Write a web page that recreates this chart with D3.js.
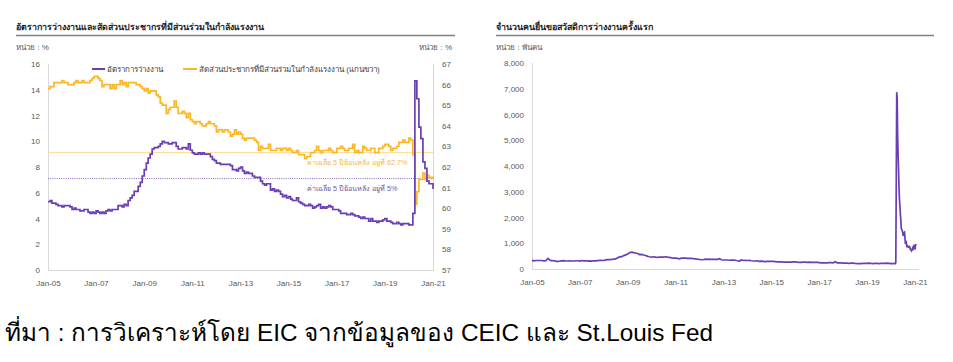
<!DOCTYPE html>
<html><head><meta charset="utf-8">
<script src="https://cdn.jsdelivr.net/npm/d3@7"></script>
<style>
body{margin:0;background:#fff;}
svg{display:block;font-family:"Liberation Sans",Arial,sans-serif;}
</style></head>
<body><svg id="c" width="953" height="362"></svg>
<script>
// ---------- DATA ----------
const leftTitle = "อัตราการว่างงานและสัดส่วนประชากรที่มีส่วนร่วมในกำลังแรงงาน";
const rightTitle = "จำนวนคนยื่นขอสวัสดิการว่างงานครั้งแรก";
const unitPct = "หน่วย : %";
const unitK = "หน่วย : พันคน";
const seriesNames = ["อัตราการว่างงาน", "สัดส่วนประชากรที่มีส่วนร่วมในกำลังแรงงาน (แกนขวา)"];
const avgLabels = ["ค่าเฉลี่ย 5 ปีย้อนหลัง อยู่ที่ 62.7%", "ค่าเฉลี่ย 5 ปีย้อนหลัง อยู่ที่ 5%"];
const avgParticipation = 62.7;   // right axis
const avgUnemploymentLine = 7.1; // left axis (position of dotted line)
const sourceText = "ที่มา : การวิเคราะห์โดย EIC จากข้อมูลของ CEIC และ St.Louis Fed";
const xTickLabels = ["Jan-05","Jan-07","Jan-09","Jan-11","Jan-13","Jan-15","Jan-17","Jan-19","Jan-21"];
const leftTicks = [0,2,4,6,8,10,12,14,16];
const rightTicks = [57,58,59,60,61,62,63,64,65,66,67];
const claimsTicks = [0,1000,2000,3000,4000,5000,6000,7000,8000];

// monthly from Jan-2005 to Jan-2021
const unemploymentRate = [
5.3,5.4,5.2,5.2,5.1,5.0,5.0,4.9,5.0,5.0,5.0,4.9,
4.7,4.8,4.7,4.7,4.6,4.6,4.7,4.7,4.5,4.4,4.5,4.4,
4.6,4.5,4.4,4.5,4.4,4.6,4.7,4.6,4.7,4.7,4.7,5.0,
5.0,4.9,5.1,5.0,5.4,5.6,5.8,6.1,6.1,6.5,6.8,7.3,
7.8,8.3,8.7,9.0,9.4,9.5,9.5,9.6,9.8,10.0,9.9,9.9,
9.8,9.8,9.9,9.9,9.6,9.4,9.4,9.5,9.5,9.4,9.8,9.3,
9.1,9.0,9.0,9.1,9.0,9.1,9.0,9.0,9.0,8.8,8.6,8.5,
8.3,8.3,8.2,8.2,8.2,8.2,8.2,8.1,7.8,7.8,7.7,7.9,
8.0,7.7,7.5,7.6,7.5,7.5,7.3,7.2,7.2,7.2,6.9,6.7,
6.6,6.7,6.7,6.2,6.3,6.1,6.2,6.1,5.9,5.7,5.8,5.6,
5.7,5.5,5.4,5.4,5.6,5.3,5.2,5.1,5.0,5.0,5.1,5.0,
4.8,4.9,5.0,5.1,4.8,4.9,4.8,4.9,5.0,4.9,4.7,4.7,
4.7,4.6,4.4,4.4,4.4,4.3,4.3,4.4,4.3,4.2,4.2,4.1,
4.0,4.1,4.0,4.0,3.8,4.0,3.8,3.8,3.7,3.8,3.8,3.9,
4.0,3.8,3.8,3.7,3.6,3.6,3.7,3.6,3.5,3.6,3.6,3.6,
3.5,3.5,4.4,14.7,13.3,11.1,10.2,8.4,7.9,6.9,6.7,6.7,
6.3];
const participationRate = [
65.8,65.9,65.9,66.1,66.1,66.1,66.1,66.2,66.1,66.1,66.0,66.0,
66.0,66.1,66.2,66.1,66.1,66.2,66.1,66.1,66.1,66.2,66.3,66.4,
66.4,66.3,66.2,65.9,66.0,66.0,66.0,65.8,66.0,65.8,66.0,66.0,
66.2,66.0,66.1,65.9,66.1,66.1,66.1,66.1,66.0,66.0,65.9,65.8,
65.7,65.8,65.6,65.7,65.7,65.7,65.5,65.4,65.1,65.0,65.0,64.6,
64.8,64.9,64.9,65.2,64.9,64.6,64.6,64.7,64.6,64.4,64.6,64.3,
64.2,64.1,64.2,64.2,64.1,64.0,64.0,64.1,64.2,64.1,64.1,64.0,
63.7,63.8,63.8,63.7,63.8,63.8,63.7,63.5,63.6,63.8,63.6,63.7,
63.6,63.4,63.3,63.4,63.4,63.4,63.4,63.3,63.2,62.8,63.0,62.9,
62.9,62.9,63.1,62.8,62.8,62.8,62.9,62.9,62.8,62.9,62.9,62.8,
62.9,62.8,62.7,62.7,62.8,62.6,62.6,62.6,62.4,62.5,62.5,62.7,
62.7,62.8,63.0,62.8,62.7,62.8,62.8,62.8,62.9,62.8,62.7,62.7,
62.9,62.9,63.0,62.9,62.8,62.8,62.9,62.9,63.1,62.7,62.8,62.7,
62.7,63.0,62.9,62.8,62.8,62.9,62.9,62.7,62.7,62.9,62.9,63.0,
63.1,63.1,63.0,62.8,62.9,62.9,63.0,63.2,63.2,63.3,63.2,63.2,
63.4,63.3,62.6,60.2,60.8,61.4,61.4,61.7,61.4,61.6,61.5,61.5,
61.4];

// initial claims, thousands: monthly Jan-2005 .. Dec-2019
const claimsMonthly = [
335,315,330,330,330,330,315,320,410,350,320,330,
300,300,305,315,325,310,310,315,310,310,320,320,
310,330,315,320,305,315,305,320,315,325,335,340,
330,355,365,365,370,385,390,440,470,480,520,550,
580,640,655,635,620,600,560,570,545,525,490,475,
465,475,460,455,460,465,460,475,460,450,430,425,
420,410,395,420,420,420,410,410,410,400,395,380,
370,360,370,385,375,385,370,370,370,375,400,360,
350,350,350,340,345,345,340,320,310,350,330,340,
330,335,320,310,310,315,300,305,295,285,295,295,
300,295,290,280,280,275,270,270,270,265,270,275,
280,265,260,255,265,265,260,265,255,260,255,260,
250,240,240,240,240,245,245,240,280,240,240,240,
230,225,225,220,225,225,215,210,205,210,220,220,
220,225,215,210,215,220,210,215,215,215,225,220];
// weekly from week ending 4-Jan-2020
const claimsWeekly2020 = [
212,207,214,214,204,206,214,219,217,211,256,3307,6867,6615,5237,4442,3867,
3176,2687,2446,2123,1897,1566,1540,1482,1413,1310,1307,1422,1435,1191,971,
1104,1011,881,893,866,873,849,845,898,791,758,751,711,748,787,716,862,892,
806,790,787,965,900];

// ---------- BUILD ----------
const svg = d3.select("#c");
const purple = "#6a3fb3", orange = "#fbb72a", axisCol = "#d9d9d9", txt = "#595959";

const monthly = (arr) => arr.map((v,i)=>({d:new Date(2005,i,1), v}));
const unData = monthly(unemploymentRate);
const lfData = monthly(participationRate);
const clData = monthly(claimsMonthly).concat(
  claimsWeekly2020.map((v,i)=>({d:d3.timeDay.offset(new Date(2020,0,4), 7*i), v})));

const tickDates = xTickLabels.map((s,i)=>new Date(2005+2*i,0,1));

function header(x0, x1, title, unitL, unitR){
  svg.append("text").attr("x",x0).attr("y",30).attr("font-size",8.9).attr("font-weight","bold")
    .attr("fill","#222").text(title);
  svg.append("line").attr("x1",x0).attr("x2",x1).attr("y1",35.5).attr("y2",35.5)
    .attr("stroke","#808080").attr("stroke-width",1.3);
  svg.append("text").attr("x",x0).attr("y",50).attr("font-size",8).attr("fill",txt).text(unitL);
  if(unitR) svg.append("text").attr("x",x1-3).attr("y",50).attr("font-size",8)
    .attr("text-anchor","end").attr("fill",txt).text(unitR);
}

// ----- left chart -----
header(16, 455, leftTitle, unitPct, unitPct);
const xL = d3.scaleTime().domain([new Date(2005,0,1), new Date(2021,0,1)]).range([48,433]);
const yL = d3.scaleLinear().domain([0,16]).range([270,64]);
const yR = d3.scaleLinear().domain([57,67]).range([270,64]);

const gL = svg.append("g");
gL.append("line").attr("x1",48.5).attr("x2",48.5).attr("y1",64).attr("y2",270).attr("stroke",axisCol);
gL.append("line").attr("x1",433.5).attr("x2",433.5).attr("y1",64).attr("y2",270).attr("stroke",axisCol);
gL.append("line").attr("x1",48).attr("x2",434).attr("y1",270.5).attr("y2",270.5).attr("stroke",axisCol);

const axL = gL.append("g").attr("transform","translate(40,0)")
  .call(d3.axisLeft(yL).tickValues(leftTicks).tickSize(0).tickPadding(0));
const axR = gL.append("g").attr("transform","translate(442,0)")
  .call(d3.axisRight(yR).tickValues(rightTicks).tickSize(0).tickPadding(0));
const axB = gL.append("g").attr("transform","translate(0,280)")
  .call(d3.axisBottom(xL).tickValues(tickDates).tickFormat((d,i)=>xTickLabels[i]).tickSize(0).tickPadding(0));
[axL,axR,axB].forEach(a=>{a.select(".domain").remove();
  a.selectAll("text").attr("font-size",8).attr("fill",txt).attr("font-family","Liberation Sans, Arial, sans-serif");});
axL.selectAll("text").attr("dy","0.32em");
axR.selectAll("text").attr("dy","0.32em");
axB.selectAll("text").attr("dy","0.71em");

// average lines
gL.append("line").attr("x1",48).attr("x2",433).attr("y1",yR(avgParticipation)).attr("y2",yR(avgParticipation))
  .attr("stroke","#fcd98a").attr("stroke-width",0.9);
gL.append("line").attr("x1",48).attr("x2",433).attr("y1",yL(avgUnemploymentLine)).attr("y2",yL(avgUnemploymentLine))
  .attr("stroke",purple).attr("stroke-width",0.8).attr("stroke-dasharray","1,1.2");

gL.append("text").attr("x",307).attr("y",yR(avgParticipation)+12).attr("font-size",7.2)
  .attr("fill","#f2b84b").text(avgLabels[0]);
gL.append("text").attr("x",307).attr("y",yL(avgUnemploymentLine)+12).attr("font-size",7.2)
  .attr("fill","#6f5a9a").text(avgLabels[1]);

const lineLf = d3.line().x(d=>xL(d.d)).y(d=>yR(d.v)).curve(d3.curveStepAfter);
const lineUn = d3.line().x(d=>xL(d.d)).y(d=>yL(d.v)).curve(d3.curveStepAfter);
gL.append("path").datum(lfData).attr("d",lineLf).attr("fill","none").attr("stroke",orange).attr("stroke-width",1.7);
gL.append("path").datum(unData).attr("d",lineUn).attr("fill","none").attr("stroke",purple).attr("stroke-width",1.7);

// legend
const leg = gL.append("g");
leg.append("line").attr("x1",92).attr("x2",105).attr("y1",69).attr("y2",69).attr("stroke",purple).attr("stroke-width",2);
leg.append("text").attr("x",107).attr("y",72).attr("font-size",8).attr("fill","#404040").text(seriesNames[0]);
leg.append("line").attr("x1",183).attr("x2",197).attr("y1",69).attr("y2",69).attr("stroke",orange).attr("stroke-width",2);
leg.append("text").attr("x",199).attr("y",72).attr("font-size",8).attr("fill","#404040").text(seriesNames[1]);

// ----- right chart -----
header(496, 934, rightTitle, unitK, null);
const xC = d3.scaleTime().domain([new Date(2005,0,1), new Date(2021,0,1)]).range([532,915]);
const yC = d3.scaleLinear().domain([0,8000]).range([269,63]);
const gR = svg.append("g");
gR.append("line").attr("x1",532.5).attr("x2",532.5).attr("y1",63).attr("y2",269).attr("stroke",axisCol);
gR.append("line").attr("x1",532).attr("x2",919).attr("y1",269.5).attr("y2",269.5).attr("stroke",axisCol);
const axC = gR.append("g").attr("transform","translate(524,0)")
  .call(d3.axisLeft(yC).tickValues(claimsTicks).tickFormat(d3.format(",")).tickSize(0).tickPadding(0));
const axCB = gR.append("g").attr("transform","translate(0,279)")
  .call(d3.axisBottom(xC).tickValues(tickDates).tickFormat((d,i)=>xTickLabels[i]).tickSize(0).tickPadding(0));
[axC,axCB].forEach(a=>{a.select(".domain").remove();
  a.selectAll("text").attr("font-size",8).attr("fill",txt).attr("font-family","Liberation Sans, Arial, sans-serif");});
axC.selectAll("text").attr("dy","0.32em");
axCB.selectAll("text").attr("dy","0.71em");
const lineC = d3.line().x(d=>xC(d.d)).y(d=>yC(d.v));
gR.append("path").datum(clData).attr("d",lineC).attr("fill","none").attr("stroke",purple).attr("stroke-width",1.7);

// source
svg.append("text").attr("x",5).attr("y",341).attr("font-size",24.3).attr("fill","#000")
  .attr("font-family","Liberation Sans, Arial, sans-serif").text(sourceText);
</script></body></html>
